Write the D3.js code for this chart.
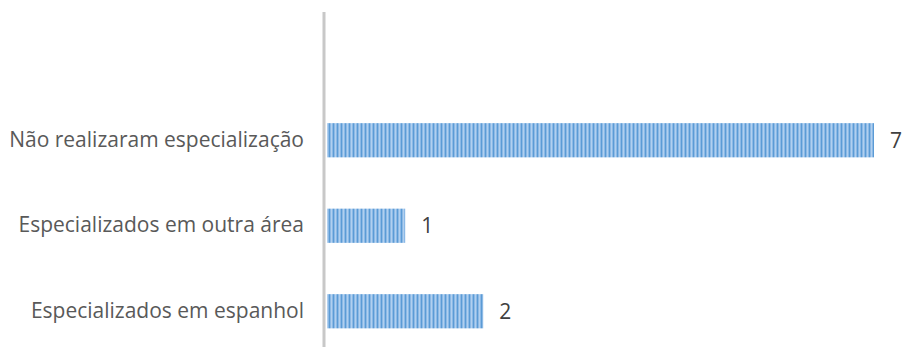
<!DOCTYPE html>
<html><head><meta charset="utf-8">
<script src="https://cdn.jsdelivr.net/npm/d3@7"></script>
<style>body{margin:0;background:#fff}svg{display:block}</style>
</head><body>
<script>
const categories = ["", "Não realizaram especialização", "Especializados em outra área", "Especializados em espanhol"];
const values = [null, 7, 1, 2];
const W = 905, H = 347;
const svg = d3.select("body").append("svg").attr("width", W).attr("height", H);
const defs = svg.append("defs");
const pat = defs.append("pattern").attr("id","stripes").attr("patternUnits","userSpaceOnUse")
  .attr("width",4).attr("height",4);
pat.append("rect").attr("width",4).attr("height",4).attr("fill","#c2daf3");
pat.append("rect").attr("x",0).attr("width",1).attr("height",4).attr("fill","#8cb9e6");
pat.append("rect").attr("x",1).attr("width",1.5).attr("height",4).attr("fill","#5b9bd5");
pat.append("rect").attr("x",2.5).attr("width",0.8).attr("height",4).attr("fill","#8cb9e6");
const x = d3.scaleLinear().domain([0,7]).range([327,874]);
const y = d3.scaleBand().domain(categories).range([12,354]).paddingInner(0.6).paddingOuter(0.3);
const data = categories.map((c,i)=>({c, v: values[i]})).filter(d=>d.v!=null);
svg.selectAll("rect.bar").data(data).enter().append("rect").attr("class","bar")
  .attr("x", x(0)).attr("y", d=>y(d.c)).attr("width", d=>x(d.v)-x(0)).attr("height", y.bandwidth())
  .attr("fill","url(#stripes)");
svg.selectAll("text.val").data(data).enter().append("text").attr("class","val")
  .attr("x", d=>x(d.v)+16).attr("y", d=>y(d.c)+y.bandwidth()/2).attr("dy","0.35em")
  .attr("font-family","Open Sans").attr("font-size",21).attr("fill","#404040").text(d=>d.v);
const axis = svg.append("g").attr("transform",`translate(${x(0)-3},0)`)
  .call(d3.axisLeft(y).tickSize(0).tickPadding(20));
axis.select(".domain").attr("stroke","#c8c8c8").attr("stroke-width",3).attr("d",`M0,12V354`);
axis.selectAll("text").attr("font-family","Open Sans").attr("font-size",21).attr("fill","#595959");
</script>
</body></html>
